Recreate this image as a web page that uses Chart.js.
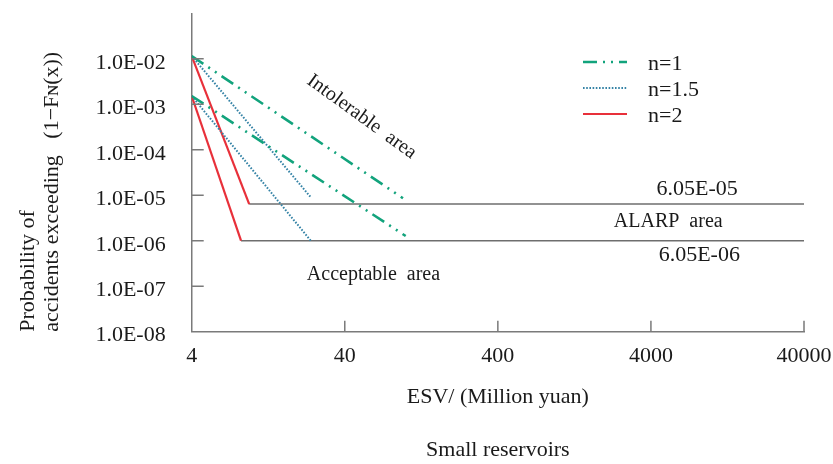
<!DOCTYPE html>
<html>
<head>
  <title>Small reservoirs - F-N criterion</title>
  <script src="https://cdn.jsdelivr.net/npm/chart.js"></script>
  <style>
    body {
      margin: 0;
      background: #fff;
    }
    #box {
      width: 833px;
      height: 464px;
    }
  </style>
</head>
<body>
  <div id="box"><canvas id="chart"></canvas></div>

  <script>
    // ---- data ----
    const esvTicks = [4, 40, 400, 4000, 40000];
    const esvTickLabels = ["4", "40", "400", "4000", "40000"];
    const probTicks = [1e-2, 1e-3, 1e-4, 1e-5, 1e-6, 1e-7, 1e-8];
    const probTickLabels = ["1.0E-02", "1.0E-03", "1.0E-04", "1.0E-05", "1.0E-06", "1.0E-07", "1.0E-08"];

    const seriesNames = ["n=1", "n=1.5", "n=2"];
    const startEsv = 4;
    const upperStartProb = 1.15e-2;   // upper group starts at 1.0E-02
    const lowerStartProb = 1.52e-3;   // lower group starts at 1.0E-03
    const upperEndEsv = [96, 24, 9.5];
    const upperEndProb = [8.6e-6, 9.0e-6, 6.4e-6];
    const lowerEndEsv = [100, 24, 8.4];
    const lowerEndProb = [1.27e-6, 1.0e-6, 1.0e-6];

    const limitLabels = ["6.05E-05", "6.05E-06"];
    const limitProb = [6.4e-6, 1.0e-6];
    const limitStartEsv = [9.5, 8.4];
    const limitEndEsv = 40000;

    // ---- styles ----
    const serif = "'Liberation Serif', 'Times New Roman', serif";
    const textColor = "#1a1a1a";
    const axisColor = "#7a7a7a";
    const seriesStyles = [
      { color: "#12a37c", width: 2.6, dash: [14, 6, 2, 6, 2, 6] },
      { color: "#3583a6", width: 2, dash: [1.6, 1.6] },
      { color: "#e8303a", width: 2.2, dash: [] }
    ];

    const datasets = [];
    seriesNames.forEach((name, i) => {
      const st = seriesStyles[i];
      [[upperStartProb, upperEndEsv[i], upperEndProb[i]], [lowerStartProb, lowerEndEsv[i], lowerEndProb[i]]].forEach(seg => {
        datasets.push({
          label: name,
          data: [{ x: startEsv, y: seg[0] }, { x: seg[1], y: seg[2] }],
          borderColor: st.color,
          borderWidth: st.width,
          borderDash: st.dash,
          pointRadius: 0,
          fill: false,
          tension: 0
        });
      });
    });
    limitProb.forEach((p, i) => {
      datasets.push({
        label: limitLabels[i],
        data: [{ x: limitStartEsv[i], y: p }, { x: limitEndEsv, y: p }],
        borderColor: "#6e6e6e",
        borderWidth: 1.5,
        pointRadius: 0,
        fill: false
      });
    });

    // text labels placed in data coordinates
    const notes = [
      { text: "Intolerable  area", x: 51.6, y: 5.3e-4, rotate: 36, size: 20 },
      { text: "ALARP  area", x: 5189, y: 2.6e-6, rotate: 0, size: 20 },
      { text: "Acceptable  area", x: 61.6, y: 1.77e-7, rotate: 0, size: 20 },
      { text: limitLabels[0], x: 8025, y: 1.37e-5, rotate: 0, size: 22 },
      { text: limitLabels[1], x: 8277, y: 4.9e-7, rotate: 0, size: 22 }
    ];

    const notesPlugin = {
      id: "notes",
      afterDatasetsDraw(chart) {
        const { ctx, scales: { x, y } } = chart;
        ctx.save();
        ctx.fillStyle = textColor;
        ctx.textAlign = "center";
        ctx.textBaseline = "middle";
        notes.forEach(n => {
          ctx.save();
          ctx.font = n.size + "px " + serif;
          ctx.translate(x.getPixelForValue(n.x), y.getPixelForValue(n.y));
          ctx.rotate(n.rotate * Math.PI / 180);
          ctx.fillText(n.text, 0, 0);
          ctx.restore();
        });
        ctx.restore();
      }
    };

    // short tick marks pointing into the plot
    const innerTicks = {
      id: "innerTicks",
      afterDraw(chart) {
        const { ctx, chartArea: a, scales: { x, y } } = chart;
        ctx.save();
        ctx.strokeStyle = axisColor;
        ctx.lineWidth = 1.5;
        ctx.beginPath();
        x.ticks.forEach(t => {
          if (t.value > x.min) {
            const px = x.getPixelForValue(t.value);
            ctx.moveTo(px, a.bottom);
            ctx.lineTo(px, a.bottom - 11);
          }
        });
        y.ticks.forEach(t => {
          if (t.value > y.min) {
            const py = y.getPixelForValue(t.value);
            ctx.moveTo(a.left, py);
            ctx.lineTo(a.left + 12, py);
          }
        });
        ctx.stroke();
        ctx.restore();
      }
    };

    // legend drawn inside the plot, upper right
    const legendBox = {
      id: "legendBox",
      afterDraw(chart) {
        const ctx = chart.ctx;
        ctx.save();
        ctx.font = "22px " + serif;
        ctx.fillStyle = textColor;
        ctx.textBaseline = "middle";
        seriesNames.forEach((name, i) => {
          const st = seriesStyles[i];
          const yy = 62 + i * 26;
          ctx.beginPath();
          ctx.strokeStyle = st.color;
          ctx.lineWidth = st.width;
          ctx.setLineDash(st.dash);
          ctx.moveTo(583, yy);
          ctx.lineTo(627, yy);
          ctx.stroke();
          ctx.setLineDash([]);
          ctx.fillText(name, 648, yy + 2);
        });
        ctx.restore();
      }
    };

    const noEdgePadding = s => {
      s.paddingTop = 0;
      s.paddingBottom = 0;
      s.paddingLeft = 0;
      s.paddingRight = 0;
    };

    new Chart(document.getElementById("chart"), {
      type: "line",
      data: { datasets: datasets },
      plugins: [notesPlugin, innerTicks, legendBox],
      options: {
        responsive: true,
        maintainAspectRatio: false,
        animation: false,
        layout: { padding: { top: 13.3, right: 29, left: 0, bottom: 0 } },
        plugins: {
          legend: { display: false },
          tooltip: { enabled: false }
        },
        scales: {
          x: {
            type: "logarithmic",
            min: 4,
            max: 40000,
            afterBuildTicks: s => { s.ticks = esvTicks.map(v => ({ value: v })); },
            afterFit: s => { s.height = 132.3; noEdgePadding(s); },
            grid: { display: false, drawTicks: false },
            border: { color: axisColor, width: 1.5 },
            ticks: {
              autoSkip: false,
              maxRotation: 0,
              padding: 11,
              color: textColor,
              font: { family: serif, size: 22 },
              callback: (v) => {
                const i = esvTicks.indexOf(v);
                return i < 0 ? "" : esvTickLabels[i];
              }
            },
            title: {
              display: true,
              text: ["ESV/ (Million yuan)", "", "Small reservoirs"],
              color: textColor,
              font: { family: serif, size: 22, lineHeight: 1.22 },
              padding: { top: 0, bottom: 0 }
            }
          },
          y: {
            type: "logarithmic",
            min: 1e-8,
            max: 1e-1,
            afterBuildTicks: s => {
              s.ticks = probTicks.slice().sort((a, b) => a - b).map(v => ({ value: v }));
            },
            afterFit: s => { s.width = 191.7; noEdgePadding(s); },
            grid: { display: false, drawTicks: false },
            border: { color: axisColor, width: 1.5 },
            ticks: {
              autoSkip: false,
              padding: 26,
              labelOffset: 4,
              color: textColor,
              font: { family: serif, size: 22 },
              callback: (v) => {
                const i = probTicks.findIndex(t => Math.abs(Math.log10(t) - Math.log10(v)) < 1e-6);
                return i < 0 ? "" : probTickLabels[i];
              }
            },
            title: {
              display: true,
              align: "start",
              text: ["Probability of", "accidents exceeding   (1\u2212F\u0274(x))"],
              color: textColor,
              font: { family: serif, size: 22, lineHeight: 1.1 },
              padding: { top: 16, bottom: 0 }
            }
          }
        }
      }
    });
  </script>
</body>
</html>
